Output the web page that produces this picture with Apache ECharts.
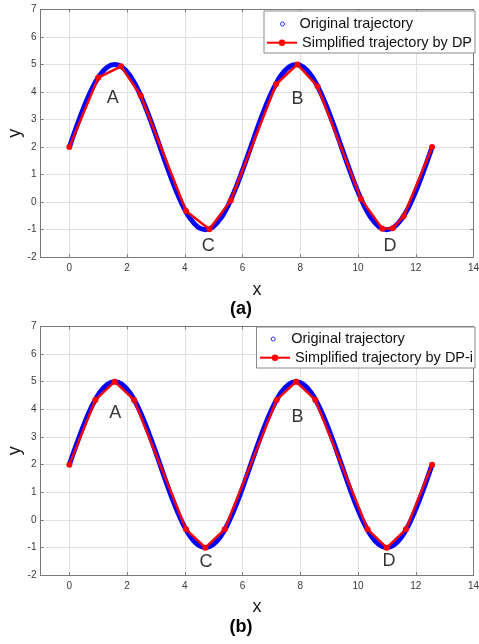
<!DOCTYPE html>
<html>
<head>
<meta charset="utf-8">
<script src="https://cdn.jsdelivr.net/npm/echarts@6/dist/echarts.min.js"></script>
<style>
  html, body { margin: 0; padding: 0; background: #fff; }
  #chart { width: 479px; height: 644px; }
</style>
</head>
<body>
<div id="chart"></div>
<script>
// Original trajectory samples (x, y)
const origX = [0, 0.262, 0.524, 0.785, 1.047, 1.309, 1.571, 1.833, 2.094, 2.356, 2.618, 2.880,
  3.142, 3.403, 3.665, 3.927, 4.189, 4.451, 4.712, 4.974, 5.236, 5.498, 5.760, 6.021,
  6.283, 6.545, 6.807, 7.069, 7.330, 7.592, 7.854, 8.116, 8.378, 8.639, 8.901, 9.163,
  9.425, 9.687, 9.948, 10.210, 10.472, 10.734, 10.996, 11.257, 11.519, 11.781, 12.043, 12.305, 12.566];
const origY = [2, 2.776, 3.5, 4.121, 4.598, 4.898, 5, 4.898, 4.598, 4.121, 3.5, 2.776,
  2, 1.224, 0.5, -0.121, -0.598, -0.898, -1, -0.898, -0.598, -0.121, 0.5, 1.224,
  2, 2.776, 3.5, 4.121, 4.598, 4.898, 5, 4.898, 4.598, 4.121, 3.5, 2.776,
  2, 1.224, 0.5, -0.121, -0.598, -0.898, -1, -0.898, -0.598, -0.121, 0.5, 1.224, 2];

// Simplified trajectory by DP
const dpX = [0, 1.0, 1.79, 2.47, 4.04, 4.85, 5.59, 7.16, 7.9, 8.6, 10.1, 10.84, 11.2, 11.58, 12.566];
const dpY = [2, 4.52, 4.93, 3.87, -0.32, -0.98, 0.06, 4.28, 5.0, 4.2, 0.12, -0.96, -0.95, -0.51, 2];

// Simplified trajectory by DP-i
const dpiX = [0, 0.9, 1.571, 2.24, 4.04, 4.712, 5.38, 7.18, 7.854, 8.52, 10.33, 10.996, 11.66, 12.566];
const dpiY = [2, 4.34, 5, 4.34, -0.34, -1, -0.34, 4.34, 5, 4.34, -0.34, -1, -0.34, 2];

// Peak / valley annotations
const markNames = ['A', 'B', 'C', 'D'];
const markXa = [1.5, 7.9, 4.81, 11.11];
const markYa = [3.77, 3.73, -1.59, -1.59];
const markXb = [1.59, 7.9, 4.73, 11.07];
const markYb = [3.86, 3.73, -1.51, -1.48];

// Axis ranges and x tick values
const xRange = [-1, 14];
const yRange = [-2, 7];
const xTicks = [0, 2, 4, 6, 8, 10, 12, 14];

const seriesNames = ['Original trajectory', 'Simplified trajectory by DP', 'Simplified trajectory by DP-i'];
const panelTags = ['(a)', '(b)'];

const FONT = 'Liberation Sans, Arial, sans-serif';
const AXIS_COLOR = '#7a7a7a';
const LABEL_COLOR = '#3a3a3a';
const GRID_COLOR = '#e0e0e0';

const zip = (xs, ys) => xs.map((x, i) => [x, ys[i]]);

const grids = [
  { left: 40.5, top: 9.3, width: 433, height: 248, outerBoundsMode: 'none', containLabel: false },
  { left: 40.5, top: 326.3, width: 433, height: 249, outerBoundsMode: 'none', containLabel: false }
];

function mainX(gridIndex, nameGap) {
  return {
    type: 'value', gridIndex, position: 'bottom',
    min: xRange[0], max: xRange[1], interval: 1,
    name: 'x', nameLocation: 'middle', nameGap, nameMoveOverlap: false,
    nameTextStyle: { fontFamily: FONT, fontSize: 18, color: '#1a1a1a' },
    axisLine: { show: true, onZero: false, lineStyle: { color: AXIS_COLOR, width: 1 } },
    axisTick: { show: true, inside: true, length: 3, customValues: xTicks, lineStyle: { color: AXIS_COLOR } },
    axisLabel: { fontFamily: FONT, fontSize: 10, color: LABEL_COLOR, margin: 6, customValues: xTicks },
    splitLine: { show: true, lineStyle: { color: GRID_COLOR, width: 1 } }
  };
}
function boxX(gridIndex) {
  return {
    type: 'value', gridIndex, position: 'top',
    min: xRange[0], max: xRange[1], interval: 1,
    axisLine: { show: true, onZero: false, lineStyle: { color: AXIS_COLOR, width: 1 } },
    axisTick: { show: true, inside: true, length: 3, customValues: xTicks, lineStyle: { color: AXIS_COLOR } },
    axisLabel: { show: false }, splitLine: { show: false }
  };
}
function mainY(gridIndex) {
  return {
    type: 'value', gridIndex, position: 'left',
    min: yRange[0], max: yRange[1], interval: 1,
    name: 'y', nameLocation: 'middle', nameGap: 16, nameRotate: 90, nameMoveOverlap: false,
    nameTextStyle: { fontFamily: FONT, fontSize: 18, color: '#1a1a1a' },
    axisLine: { show: true, onZero: false, lineStyle: { color: AXIS_COLOR, width: 1 } },
    axisTick: { show: true, inside: true, length: 3, lineStyle: { color: AXIS_COLOR } },
    axisLabel: { fontFamily: FONT, fontSize: 10, color: LABEL_COLOR, margin: 4 },
    splitLine: { show: true, lineStyle: { color: GRID_COLOR, width: 1 } }
  };
}
function boxY(gridIndex) {
  return {
    type: 'value', gridIndex, position: 'right',
    min: yRange[0], max: yRange[1], interval: 1,
    axisLine: { show: true, onZero: false, lineStyle: { color: AXIS_COLOR, width: 1 } },
    axisTick: { show: true, inside: true, length: 3, lineStyle: { color: AXIS_COLOR } },
    axisLabel: { show: false }, splitLine: { show: false }
  };
}

function origSeries(axisIndex) {
  return {
    name: seriesNames[0], type: 'line',
    xAxisIndex: axisIndex, yAxisIndex: axisIndex,
    data: zip(origX, origY), smooth: 0.35, showSymbol: false, symbol: 'emptyCircle',
    lineStyle: { color: '#0000ff', width: 5 }, itemStyle: { color: '#0000ff' },
    z: 2, silent: true
  };
}
function simpSeries(name, axisIndex, xs, ys) {
  return {
    name, type: 'line',
    xAxisIndex: axisIndex, yAxisIndex: axisIndex,
    data: zip(xs, ys), symbol: 'circle', symbolSize: 6, showSymbol: true,
    lineStyle: { color: '#ff0000', width: 2.5 }, itemStyle: { color: '#ff0000' },
    z: 3, silent: true
  };
}
function markSeries(axisIndex, xs, ys) {
  return {
    type: 'scatter', xAxisIndex: axisIndex, yAxisIndex: axisIndex,
    data: markNames.map((n, i) => ({ name: n, value: [xs[i], ys[i]] })),
    symbolSize: 0, silent: true, z: 4,
    label: { show: true, position: 'inside', formatter: '{b}',
      fontFamily: FONT, fontSize: 18, color: '#000' }
  };
}

// One legend per entry so each icon can have its own size.
// The circle-only icon is laid out by its own bounds, hence the separate left offset.
function legendPair(circleLeft, circleWidth, lineLeft, top1, top2, simpName) {
  const text = { fontFamily: FONT, fontSize: 14.5, color: '#111', lineHeight: 16 };
  return [
    { orient: 'vertical', left: circleLeft, top: top1, padding: 0, itemWidth: circleWidth, itemHeight: 4,
      textStyle: text, selectedMode: false, z: 20,
      data: [{ name: seriesNames[0], icon: 'circle',
        itemStyle: { color: '#ffffff', borderColor: '#3030ff', borderWidth: 1 } }] },
    { orient: 'vertical', left: lineLeft, top: top2, padding: 0, itemWidth: 30, itemHeight: 8,
      textStyle: text, selectedMode: false, z: 20,
      data: [simpName] }
  ];
}

const option = {
  animation: false,
  backgroundColor: '#fff',
  grid: grids,
  xAxis: [mainX(0, 24), boxX(0), mainX(1, 23), boxX(1)],
  yAxis: [mainY(0), boxY(0), mainY(1), boxY(1)],
  legend: [
    ...legendPair(280, 24, 266, 16, 34.7, seriesNames[1]),
    ...legendPair(270.7, 26, 259, 331, 349.7, seriesNames[2])
  ],
  graphic: [
    { type: 'rect', z: 15, shape: { x: 264, y: 11, width: 211, height: 42 },
      style: { fill: '#fff', stroke: '#8a8a8a', lineWidth: 1 } },
    { type: 'rect', z: 15, shape: { x: 256.5, y: 327, width: 218.5, height: 41 },
      style: { fill: '#fff', stroke: '#8a8a8a', lineWidth: 1 } },
    { type: 'text', z: 15, x: 241, y: 309,
      style: { text: panelTags[0], font: 'bold 18px ' + FONT, fill: '#000',
        textAlign: 'center', textVerticalAlign: 'middle' } },
    { type: 'text', z: 15, x: 241, y: 627,
      style: { text: panelTags[1], font: 'bold 18px ' + FONT, fill: '#000',
        textAlign: 'center', textVerticalAlign: 'middle' } }
  ],
  series: [
    origSeries(0),
    simpSeries(seriesNames[1], 0, dpX, dpY),
    markSeries(0, markXa, markYa),
    origSeries(2),
    simpSeries(seriesNames[2], 2, dpiX, dpiY),
    markSeries(2, markXb, markYb)
  ]
};

const chart = echarts.init(document.getElementById('chart'), null, { renderer: 'canvas' });
chart.setOption(option);
</script>
</body>
</html>
